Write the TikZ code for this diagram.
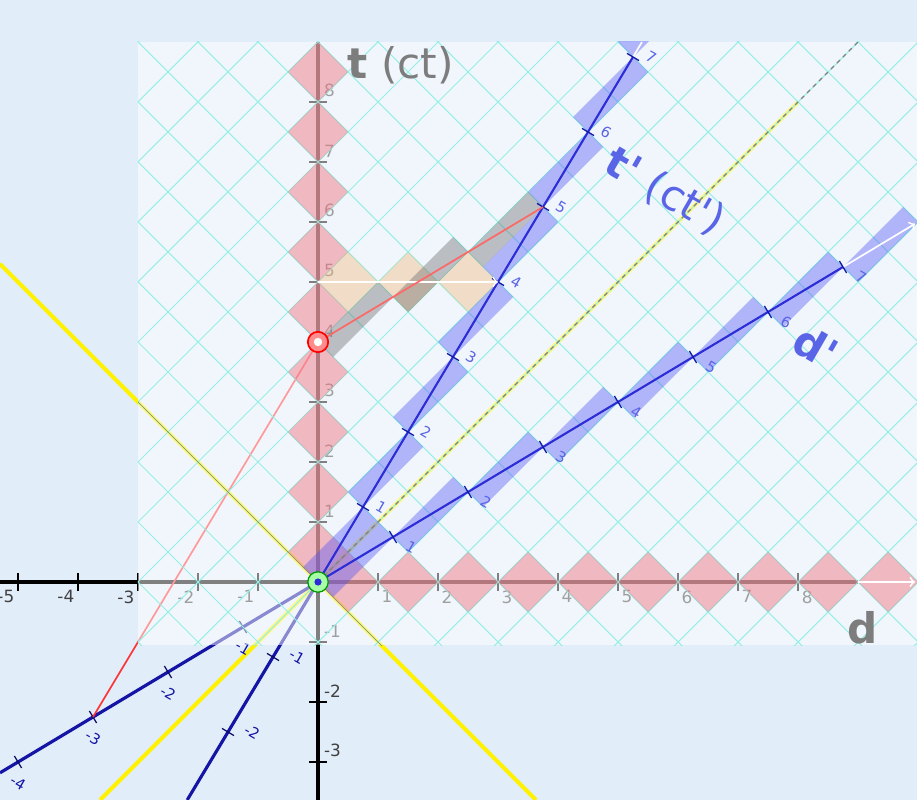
\documentclass[tikz,border=0pt]{standalone}
\usepackage{fontspec}
\setmainfont{DejaVu Sans}
\usetikzlibrary{calc}

\definecolor{bgblue}{RGB}{226,237,250}
\definecolor{gridcyan}{RGB}{150,238,228}
\definecolor{diared}{RGB}{242,111,124}
\definecolor{boxblue}{RGB}{80,82,245}
\definecolor{boxgray}{RGB}{105,107,107}
\definecolor{boxorange}{RGB}{243,182,120}
\definecolor{lineblue}{RGB}{45,45,215}
\definecolor{darkblue}{RGB}{20,20,165}
\definecolor{labblue}{RGB}{90,100,230}
\definecolor{labgray}{RGB}{125,125,125}

\begin{document}
\begin{tikzpicture}[x=1cm,y=1cm,
    tickline/.style={black,line width=0.6pt},
    ticklab/.style={font=\fontsize{8}{9}\selectfont,text=black!75,inner sep=1pt},
    primelab/.style={font=\fontsize{7}{8}\selectfont,text=labblue,inner sep=0.5pt,rotate=-30},
    biglab/.style={font=\fontsize{20}{24}\selectfont,inner sep=0pt},
    gridline/.style={gridcyan,line width=0.5pt},
    lightdia/.style={fill=diared,fill opacity=0.45},
    restdia/.style={fill=boxorange,fill opacity=0.4},
    primebox/.style={fill=boxblue,fill opacity=0.4},
    simbox/.style={fill=boxgray,fill opacity=0.4}]

    \useasboundingbox (-5.3,-3.633) rectangle (9.983,9.7);
    \fill[bgblue] (-5.3,-3.633) rectangle (9.983,9.7);

    \coordinate (O) at (0,0);
    \coordinate (E4) at (0,4);
    \coordinate (A5) at (0,5);
    \coordinate (T4) at (3,5);
    \coordinate (T5) at (3.75,6.25);
    \coordinate (Dm3) at (-3.75,-2.25);

    \draw[black,line width=1.5pt] (-5.3,0) -- (9,0);
    \draw[black,line width=1.5pt] (0,-3.633) -- (0,9);
    \foreach \n in {-5,...,-1} {
        \draw[tickline] (\n,-0.15) -- (\n,0.15);
        \node[ticklab,anchor=north east] (xl\n) at (\n-0.02,-0.1) {\n};
    }
    \foreach \n in {1,...,8} {
        \draw[tickline] (\n,-0.15) -- (\n,0.15);
        \node[ticklab,anchor=north west] (xl\n) at (\n+0.02,-0.1) {\n};
    }
    \foreach \n in {-3,-2,-1,1,2,3,4,5,6,7,8} {
        \draw[tickline] (-0.15,\n) -- (0.15,\n);
        \node[ticklab,anchor=south west] (tl\n) at (0.06,\n+0.04) {\n};
    }

    \draw[yellow,line width=2pt] (-3.633,-3.633) -- (8,8);
    \draw[yellow,line width=2pt] (-5.3,5.3) -- (3.633,-3.633);

    \draw[darkblue,line width=1.5pt] (O) -- (-5.3,-3.18);
    \draw[darkblue,line width=1.5pt] (O) -- (-2.18,-3.633);
    \foreach \n in {-1,-2} {
        \draw[darkblue!60!black,line width=0.6pt,shift={(0.75*\n,1.25*\n)}] (-0.1,0.06) -- (0.1,-0.06);
        \node[primelab,text=darkblue] (tp\n) at (0.75*\n+0.4,1.25*\n) {\n};
    }
    \foreach \n in {-1,-2,-3,-4} {
        \draw[darkblue!60!black,line width=0.6pt,shift={(1.25*\n,0.75*\n)}] (0.06,-0.1) -- (-0.06,0.1);
        \node[primelab,text=darkblue] (dp\n) at (1.25*\n,0.75*\n-0.35) {\n};
    }
    \draw[red!80,line width=0.8pt] (Dm3) -- (E4);

    \fill[white,fill opacity=0.5] (-3,-1.05) rectangle (9.983,9);

    \begin{scope}
        \clip (-3,-1.05) rectangle (9.983,9);
        \foreach \k in {-11,...,12}
            \draw[gridline] (-4,-4+\k) -- (11,11+\k);
        \foreach \k in {-4,...,19}
            \draw[gridline] (-4,\k+4) -- (11,\k-11);
        \draw[black!50!yellow,line width=0.3pt] (-3,3) -- (1.1,-1.1);
        \foreach \n in {0,...,8}
            \fill[lightdia] (0,\n) -- ++(0.5,0.5) -- ++(-0.5,0.5) -- ++(-0.5,-0.5) -- cycle;
        \foreach \n in {0,...,9}
            \fill[lightdia] (\n,0) -- ++(0.5,0.5) -- ++(0.5,-0.5) -- ++(-0.5,-0.5) -- cycle;
        \foreach \n in {0,1,2}
            \fill[restdia] (\n,5) -- ++(0.5,0.5) -- ++(0.5,-0.5) -- ++(-0.5,-0.5) -- cycle;
        \foreach \n in {0,...,7}
            \fill[primebox] (0.75*\n,1.25*\n) -- ++(1,1) -- ++(-0.25,0.25) -- ++(-1,-1) -- cycle;
        \foreach \n in {0,...,7}
            \fill[primebox] (1.25*\n,0.75*\n) -- ++(1,1) -- ++(0.25,-0.25) -- ++(-1,-1) -- cycle;
        \foreach \n in {0,1,2}
            \fill[simbox] (1.25*\n,4+0.75*\n) -- ++(1,1) -- ++(0.25,-0.25) -- ++(-1,-1) -- cycle;
        \draw[lineblue,line width=1pt] (O) -- (5.25,8.75);
        \draw[lineblue,line width=1pt] (O) -- (8.75,5.25);
        \draw[white,line width=0.8pt] (5.25,8.75) -- (5.4,9);
        \draw[white,line width=0.8pt,->] (8.75,5.25) -- (9.95,5.97);
        \draw[white,line width=0.8pt,->] (9,0) -- (9.95,0);
    \end{scope}

    \draw[gray,line width=0.6pt,dash pattern=on 2pt off 2pt] (O) -- (9,9);
    \foreach \n in {1,...,7} {
        \draw[darkblue,line width=0.6pt,shift={(0.75*\n,1.25*\n)}] (-0.1,0.06) -- (0.1,-0.06);
        \node[primelab] (tp\n) at (0.75*\n+0.3,1.25*\n) {\n};
        \draw[darkblue,line width=0.6pt,shift={(1.25*\n,0.75*\n)}] (0.06,-0.1) -- (-0.06,0.1);
        \node[primelab] (dp\n) at (1.25*\n+0.3,0.75*\n-0.17) {\n};
    }

    \draw[white,line width=0.8pt,->] (A5) -- (T4);
    \draw[red!60,line width=0.8pt] (E4) -- (T5);
    \draw[red,fill=red!45,line width=0.8pt] (E4) circle (0.17);
    \fill[white] (E4) circle (0.07);
    \draw[green!60!black,fill=green!35,line width=0.6pt] (O) circle (0.17);
    \fill[lineblue] (O) circle (0.06);

    \node[biglab,text=labgray] (tlab) at (1.38,8.62) {\textbf{t} (ct)};
    \node[biglab,text=labblue,rotate=-30] (tplab) at (5.78,6.5) {\textbf{t\textquotesingle} (ct\textquotesingle)};
    \node[biglab,text=labblue,rotate=-30] (dplab) at (8.3,3.92) {\textbf{d\textquotesingle}};
    \node[biglab,text=labgray] (dlab) at (9.07,-0.77) {\textbf{d}};
\end{tikzpicture}
\end{document}
